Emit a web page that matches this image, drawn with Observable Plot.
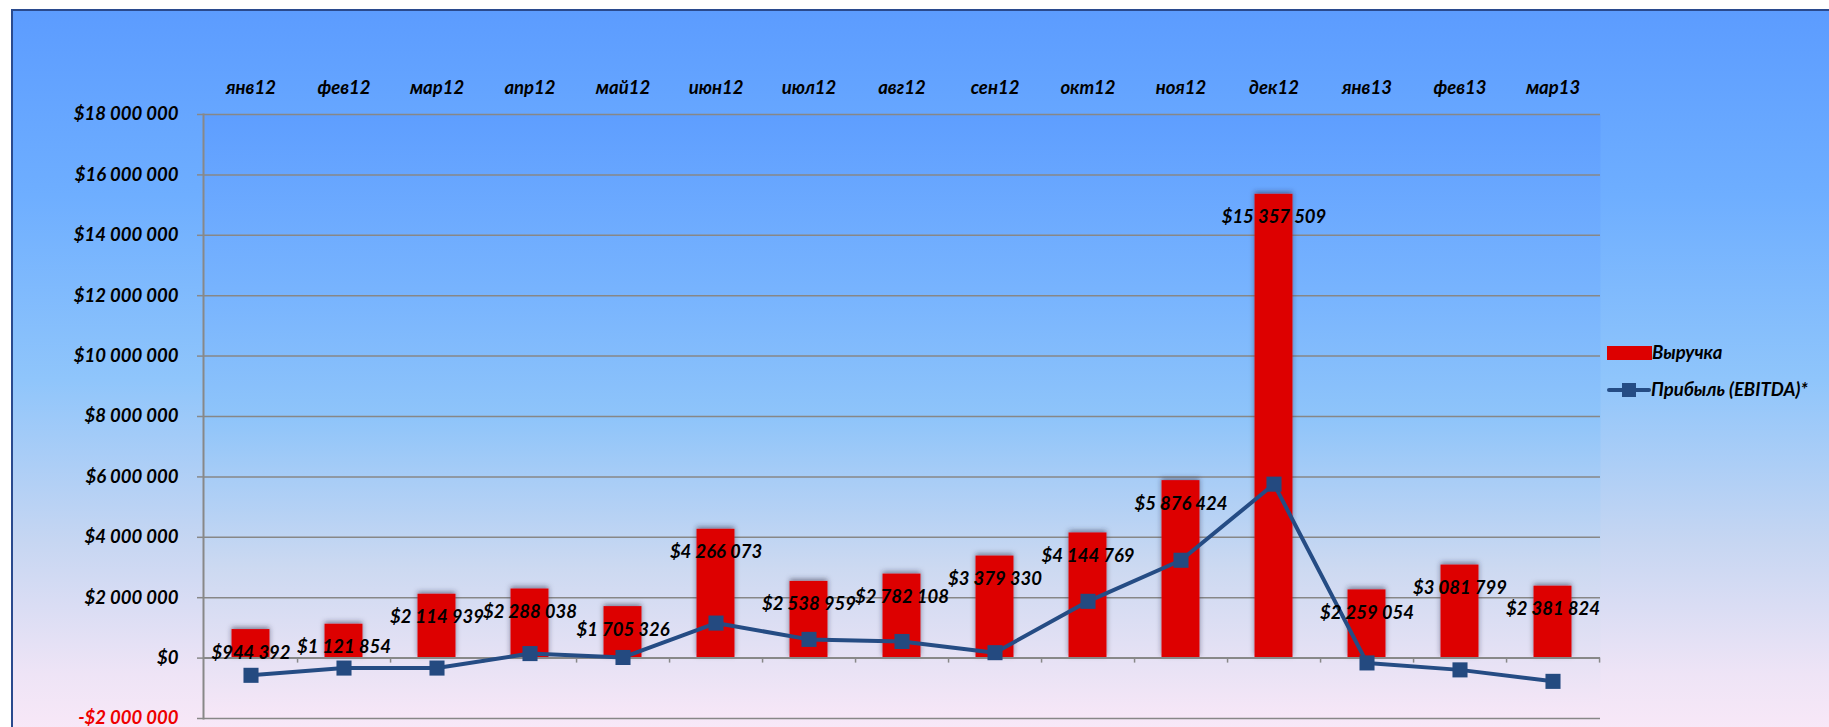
<!DOCTYPE html>
<html>
<head>
<meta charset="utf-8">
<script src="https://cdn.jsdelivr.net/npm/d3@7"></script>
<script src="https://cdn.jsdelivr.net/npm/@observablehq/plot@0.6"></script>
<style>
  html, body { margin: 0; padding: 0; background: #fff; overflow: hidden; width: 1829px; height: 727px; }
  #frame {
    position: absolute; left: 11px; top: 9px; width: 1830px; height: 740px;
    border: 2px solid #2A4A8E; box-sizing: border-box;
    background: linear-gradient(to bottom, #5C9CFF 0%, #6EAEFF 25%, #8FC5FB 50%, #C6D6F2 72%, #EEE4F6 90%, #FBE9F8 100%);
  }
  #chart { position: absolute; left: 0; top: 0; }
  .leg { position: absolute; font-family: Lato, "Open Sans", sans-serif; font-style: italic; font-weight: bold; font-size: 18.5px; color: #000; line-height: 20px; white-space: nowrap; }
</style>
</head>
<body>
<div id="frame"></div>
<div id="chart"></div>
<div class="leg" style="left:1607px; top:342px;">
  <span style="display:inline-block; width:45px; height:14px; background:#DD0000; vertical-align:-1px;"></span>Выручка
</div>
<div class="leg" style="left:1607px; top:379px;">
  <span style="display:inline-block; position:relative; width:44px; height:14px; vertical-align:-1px;">
    <span style="position:absolute; left:0; top:5px; width:44px; height:4px; background:#254C84; border-radius:2px;"></span>
    <span style="position:absolute; left:15px; top:0; width:14px; height:14px; background:#254C84;"></span>
  </span>Прибыль (EBITDA)*
</div>
<script>
const months = ["янв12","фев12","мар12","апр12","май12","июн12","июл12","авг12","сен12","окт12","ноя12","дек12","янв13","фев13","мар13"];
const revenue = [944392, 1121854, 2114939, 2288038, 1705326, 4266073, 2538959, 2782108, 3379330, 4144769, 5876424, 15357509, 2259054, 3081799, 2381824];
const ebitda = [-570000, -330000, -330000, 150000, 20000, 1160000, 620000, 550000, 180000, 1880000, 3240000, 5760000, -160000, -390000, -770000];
const yTicks = [-2000000, 0, 2000000, 4000000, 6000000, 8000000, 10000000, 12000000, 14000000, 16000000, 18000000];

const data = months.map((m, i) => ({month: m, revenue: revenue[i], ebitda: ebitda[i]}));

const W = 1829, H = 727, mL = 203, mR = 229, mT = 114, mB = 9;
const bw = (W - mL - mR) / months.length;
const pxPerUnit = (H - mT - mB) / (18000000 - -2000000);
const tickLen = 5 / pxPerUnit;
const FS = 18.5;

const money = v => (v < 0 ? "-$" : "$") + d3.format(",")(Math.abs(v)).replace(/,/g, " ");

function defs() {
  const ns = "http://www.w3.org/2000/svg";
  const d = document.createElementNS(ns, "defs");
  d.innerHTML = `<linearGradient id="plotGrad" x1="0" y1="0" x2="0" y2="1">
      <stop offset="0" stop-color="#5E9EFF"/>
      <stop offset="0.3" stop-color="#78B4FE"/>
      <stop offset="0.5" stop-color="#8EC4FA"/>
      <stop offset="0.75" stop-color="#CCD9F1"/>
      <stop offset="1" stop-color="#F7E7F7"/>
    </linearGradient>
    <filter id="barShadow" x="-30%" y="-10%" width="160%" height="120%">
      <feDropShadow dx="0" dy="-2" stdDeviation="2.5" flood-color="#303048" flood-opacity="0.55"/>
    </filter>`;
  return d;
}

const chart = Plot.plot({
  width: W, height: H,
  marginLeft: mL, marginRight: mR, marginTop: mT, marginBottom: mB,
  style: {background: "transparent", fontFamily: "Lato, 'Open Sans', sans-serif", fontSize: FS + "px", fontStyle: "italic", fontWeight: "bold", color: "#000", overflow: "visible"},
  x: {domain: months, padding: 0, label: null},
  y: {domain: [-2000000, 18000000], label: null},
  marks: [
    defs,
    Plot.frame({fill: "url(#plotGrad)", stroke: null}),
    Plot.gridY(yTicks, {stroke: "#878787", strokeOpacity: 1, strokeWidth: 1.5}),
    Plot.axisY(yTicks, {tickSize: 6, tickPadding: 19, stroke: "#888", strokeWidth: 1.5, tickFormat: money, fill: d => d < 0 ? "#EE0000" : "#000", fontSize: FS, label: null}),
    Plot.frame({anchor: "left", stroke: "#888", strokeWidth: 2}),
    Plot.axisX({anchor: "top", tickSize: 0, tickPadding: 21, fontSize: FS, fill: "#000", label: null}),
    Plot.barY(data, {x: "month", y: "revenue", fill: "#DD0000", insetLeft: 27.5, insetRight: 27.5,
      render: (index, scales, values, dims, ctx, next) => {
        const g = next(index, scales, values, dims, ctx);
        g.setAttribute("filter", "url(#barShadow)");
        return g;
      }}),
    Plot.ruleY([0], {stroke: "#888", strokeWidth: 2}),
    Plot.ruleX(months, {x: d => d, dx: bw / 2, y1: 0, y2: -tickLen, stroke: "#888", strokeWidth: 1.5}),
    Plot.line(data, {x: "month", y: "ebitda", stroke: "#254C84", strokeWidth: 4}),
    Plot.dot(data, {x: "month", y: "ebitda", symbol: "square", r: 8.5, fill: "#244A80", stroke: null}),
    Plot.text(data, {x: "month", y: "revenue", text: d => money(d.revenue), dy: 23, fill: "#000", fontSize: FS, fontWeight: "bold", fontStyle: "italic"})
  ]
});
document.getElementById("chart").appendChild(chart);
</script>
</body>
</html>
